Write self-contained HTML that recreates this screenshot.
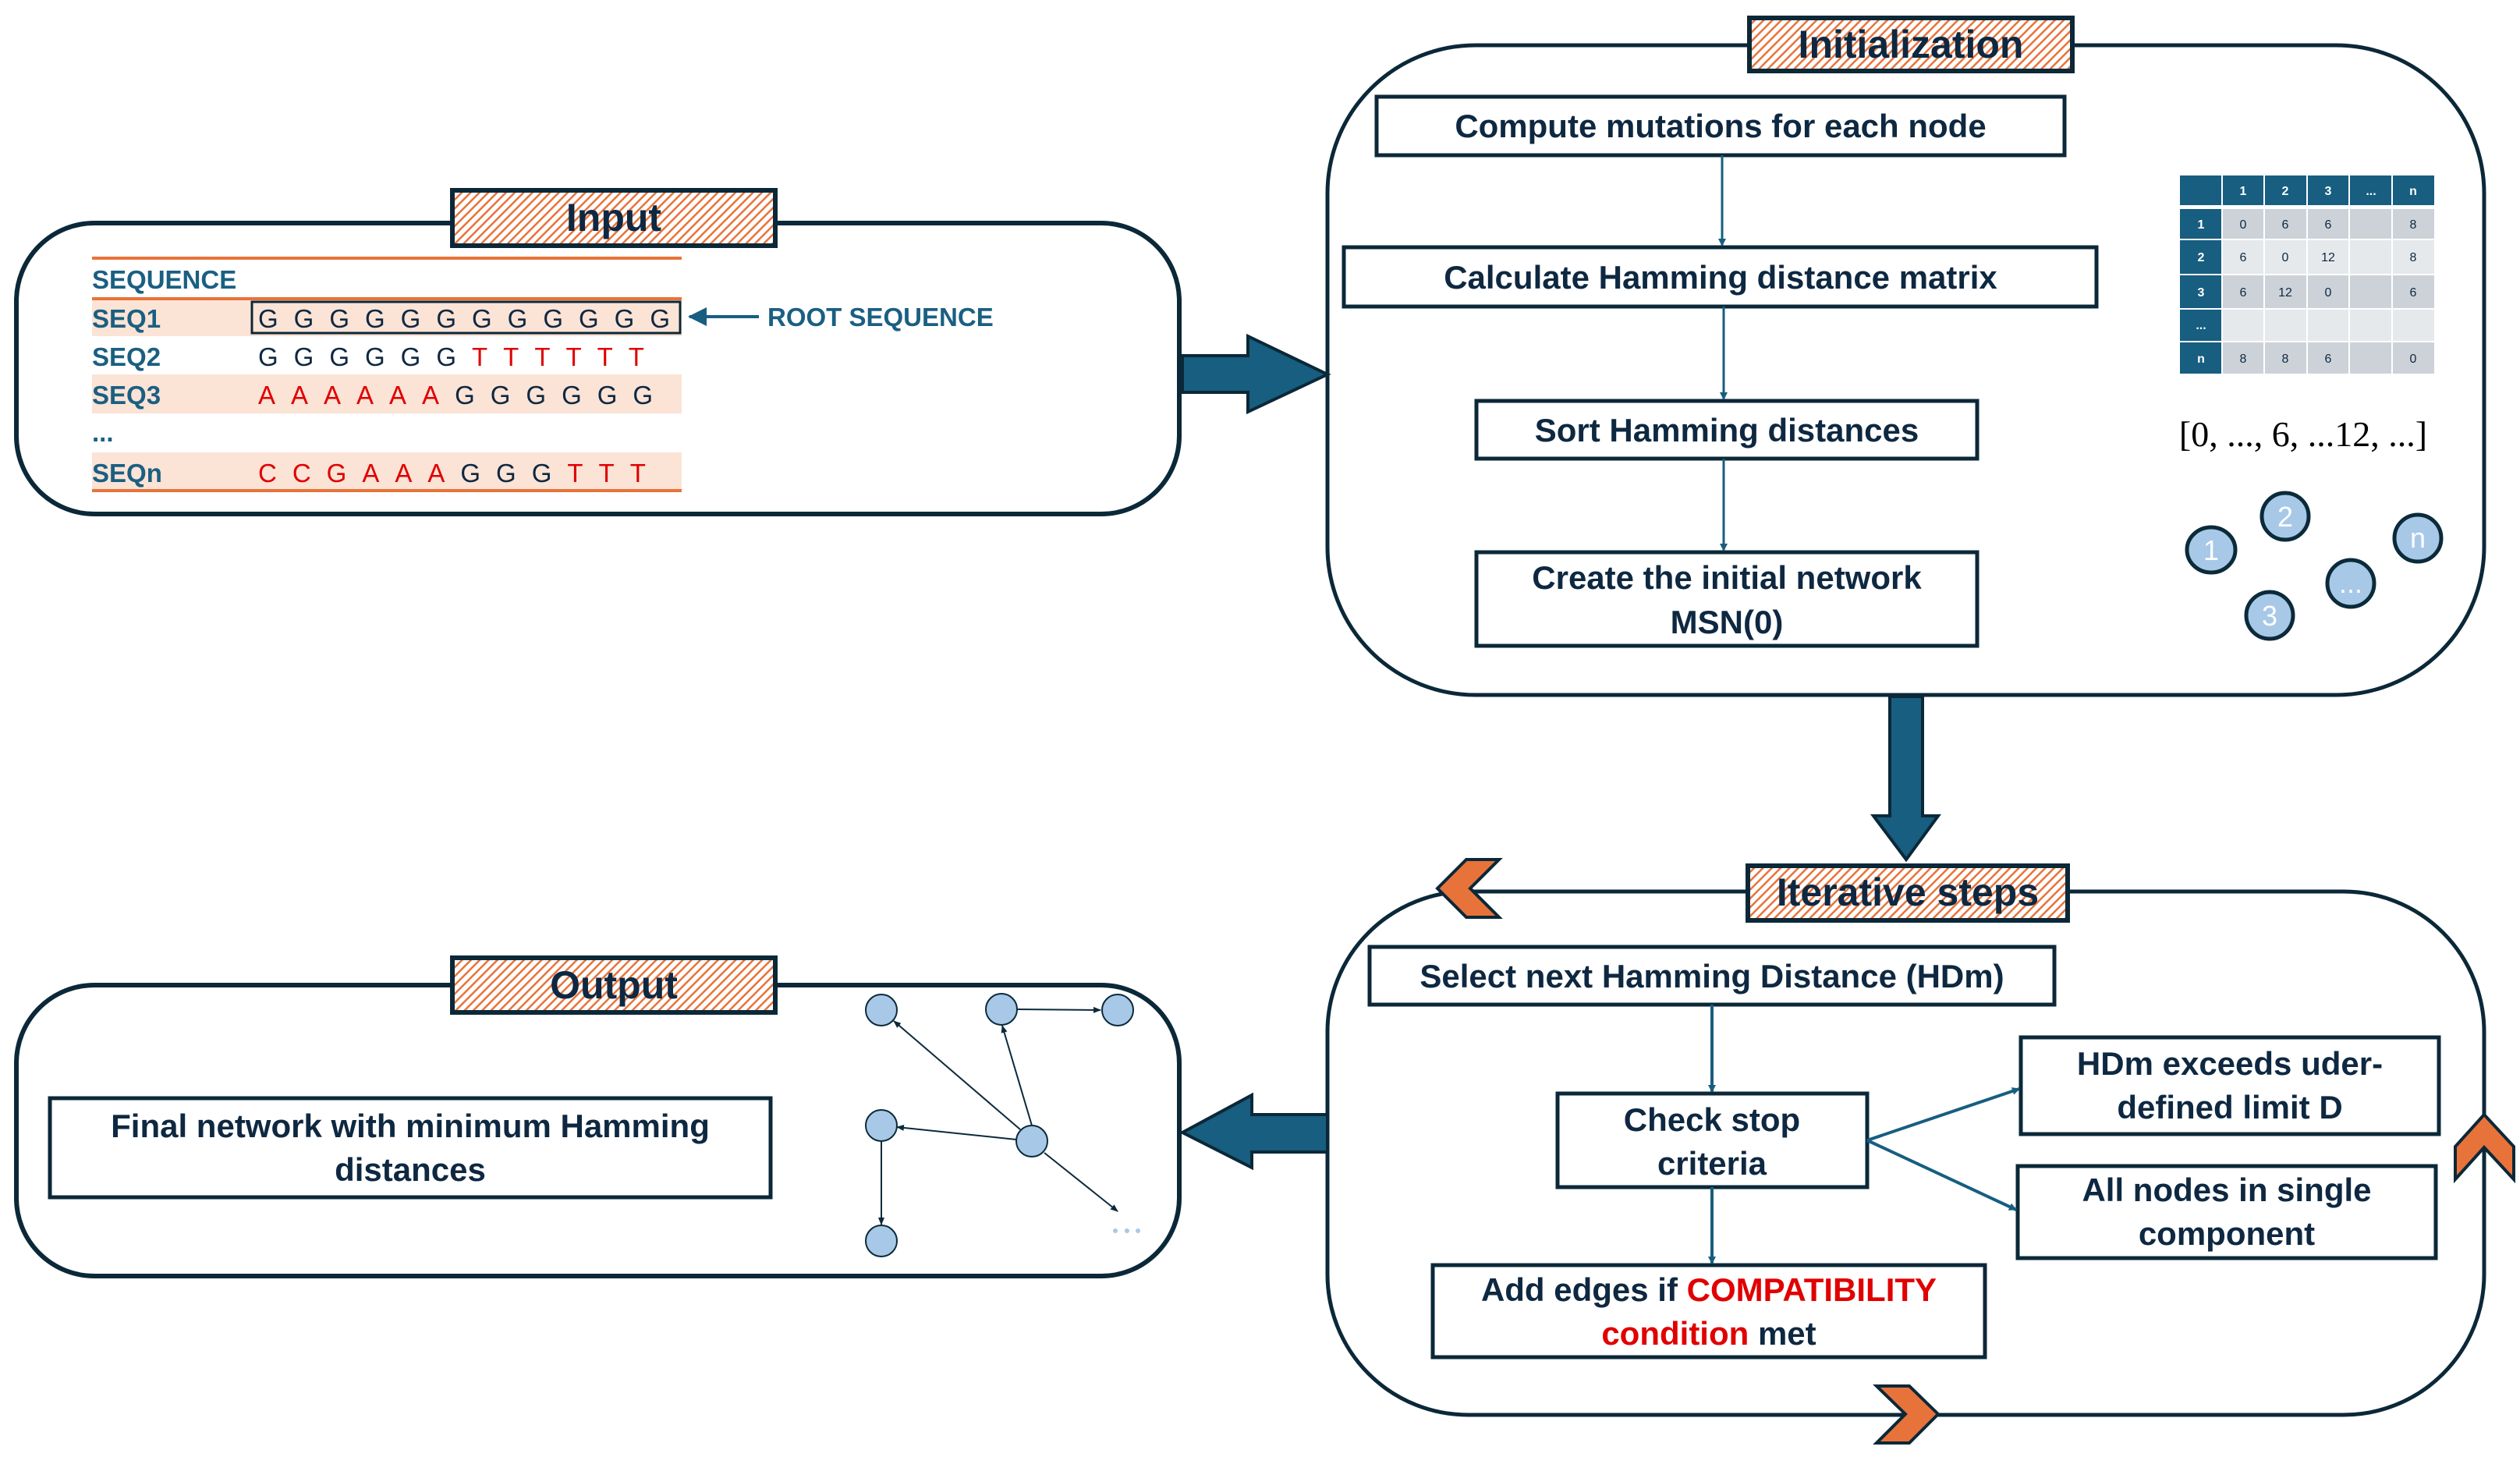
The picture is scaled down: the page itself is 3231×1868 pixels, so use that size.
<!DOCTYPE html>
<html><head><meta charset="utf-8"><style>
html,body{margin:0;padding:0;background:#fff;}
svg{display:block;}
text{font-family:"Liberation Sans",sans-serif;font-weight:bold;fill:#0e2841;}
</style></head><body>
<svg width="3231" height="1868" viewBox="0 0 3231 1868" xmlns="http://www.w3.org/2000/svg">
<defs>
<pattern id="h" patternUnits="userSpaceOnUse" width="8" height="8" patternTransform="rotate(45)">
<rect width="8" height="8" fill="#fff"/><rect x="0" y="0" width="2.5" height="8" fill="#e8733a"/>
</pattern>
<marker id="ar" markerWidth="10" markerHeight="10" refX="9" refY="5" orient="auto" markerUnits="userSpaceOnUse">
<path d="M0,0 L10,5 L0,10 Z" fill="#175e80"/></marker>
<marker id="ar2" markerWidth="24" markerHeight="24" refX="22" refY="12" orient="auto" markerUnits="userSpaceOnUse">
<path d="M0,0 L24,12 L0,24 Z" fill="#175e80"/></marker>
<marker id="ar3" markerWidth="10" markerHeight="10" refX="9" refY="5" orient="auto" markerUnits="userSpaceOnUse">
<path d="M0,1 L10,5 L0,9 Z" fill="#0b2a3a"/></marker>
</defs>

<!-- INPUT panel -->
<rect x="21" y="286" width="1491" height="373" rx="100" fill="none" stroke="#0b2838" stroke-width="6"/>
<rect x="580" y="244" width="414" height="71" fill="url(#h)" stroke="#0b2838" stroke-width="6"/>
<text x="787" y="296" font-size="50" text-anchor="middle">Input</text>

<line x1="118" y1="331" x2="874" y2="331" stroke="#e8733a" stroke-width="4"/>
<text x="118" y="370" font-size="33" style="fill:#1a5f82">SEQUENCE</text>
<rect x="118" y="383" width="756" height="48" fill="#fbe3d6"/>
<line x1="118" y1="383" x2="874" y2="383" stroke="#e8733a" stroke-width="4"/>
<rect x="118" y="480" width="756" height="50" fill="#fbe3d6"/>
<rect x="118" y="580" width="756" height="48" fill="#fbe3d6"/>
<line x1="118" y1="629" x2="874" y2="629" stroke="#e8733a" stroke-width="4"/>
<rect x="323" y="387" width="549" height="40" fill="none" stroke="#0b2838" stroke-width="3"/>
<g font-size="33" style="fill:#1a5f82">
<text x="118" y="420" style="fill:#1a5f82">SEQ1</text>
<text x="118" y="469" style="fill:#1a5f82">SEQ2</text>
<text x="118" y="518" style="fill:#1a5f82">SEQ3</text>
<text x="118" y="566" style="fill:#1a5f82">...</text>
<text x="118" y="618" style="fill:#1a5f82">SEQn</text>
</g>
<g font-size="33" style="font-weight:normal">
<text x="331" y="420" letter-spacing="20" style="font-weight:normal;fill:#0e2841">GGGGGGGGGGGG</text>
<text x="331" y="469" letter-spacing="20" style="font-weight:normal;fill:#0e2841">GGGGGG<tspan style="fill:#e00000">TTTTTT</tspan></text>
<text x="331" y="518" letter-spacing="20" style="font-weight:normal;fill:#e00000">AAAAAA<tspan style="fill:#0e2841">GGGGGG</tspan></text>
<text x="331" y="618" letter-spacing="20" style="font-weight:normal;fill:#e00000">CCGAAA<tspan style="fill:#0e2841">GGG</tspan>TTT</text>
</g>
<line x1="973" y1="406" x2="884" y2="406" stroke="#175e80" stroke-width="4" marker-end="url(#ar2)"/>
<text x="984" y="418" font-size="33" style="fill:#1a5f82">ROOT SEQUENCE</text>

<!-- arrow input -> init -->
<path d="M1516,456 L1600,456 L1600,431 L1702,480 L1600,528 L1600,503 L1516,503 Z" fill="#175e80" stroke="#0b2838" stroke-width="4"/>

<!-- INIT panel -->
<rect x="1702" y="58" width="1483" height="833" rx="190" fill="none" stroke="#0b2838" stroke-width="5"/>
<rect x="2243" y="23" width="414" height="68" fill="url(#h)" stroke="#0b2838" stroke-width="6"/>
<text x="2450" y="74" font-size="50" text-anchor="middle">Initialization</text>

<g fill="#fff" stroke="#0b2838" stroke-width="5">
<rect x="1765" y="124" width="882" height="75"/>
<rect x="1723" y="317" width="965" height="76"/>
<rect x="1893" y="514" width="642" height="74"/>
<rect x="1893" y="708" width="642" height="120"/>
</g>
<g font-size="42" text-anchor="middle">
<text x="2206" y="176">Compute mutations for each node</text>
<text x="2206" y="370">Calculate Hamming distance matrix</text>
<text x="2214" y="566">Sort Hamming distances</text>
<text x="2214" y="755">Create the initial network</text>
<text x="2214" y="812">MSN(0)</text>
</g>
<g stroke="#175e80" stroke-width="3">
<line x1="2208" y1="199" x2="2208" y2="315" marker-end="url(#ar)"/>
<line x1="2210" y1="393" x2="2210" y2="512" marker-end="url(#ar)"/>
<line x1="2210" y1="588" x2="2210" y2="706" marker-end="url(#ar)"/>
</g>

<!-- matrix -->
<g>
<rect x="2795" y="225" width="326" height="38" fill="#175e80"/>
<rect x="2795" y="268" width="53" height="211" fill="#175e80"/>
<rect x="2850" y="268" width="271" height="38" fill="#cdd2d8"/>
<rect x="2850" y="308" width="271" height="43" fill="#e6e9ec"/>
<rect x="2850" y="353" width="271" height="42" fill="#cdd2d8"/>
<rect x="2850" y="397" width="271" height="40" fill="#e6e9ec"/>
<rect x="2850" y="439" width="271" height="40" fill="#cdd2d8"/>
<g stroke="#fff" stroke-width="2">
<line x1="2849" y1="225" x2="2849" y2="479"/><line x1="2903" y1="225" x2="2903" y2="479"/>
<line x1="2958" y1="225" x2="2958" y2="479"/><line x1="3012" y1="225" x2="3012" y2="479"/>
<line x1="3067" y1="225" x2="3067" y2="479"/>
<line x1="2795" y1="307" x2="3121" y2="307"/><line x1="2795" y1="352" x2="3121" y2="352"/>
<line x1="2795" y1="396" x2="3121" y2="396"/><line x1="2795" y1="438" x2="3121" y2="438"/>
</g>
<g font-size="16" text-anchor="middle" style="fill:#fff">
<text x="2876" y="250" style="fill:#fff">1</text><text x="2930" y="250" style="fill:#fff">2</text><text x="2985" y="250" style="fill:#fff">3</text><text x="3040" y="250" style="fill:#fff">...</text><text x="3094" y="250" style="fill:#fff">n</text>
<text x="2822" y="293" style="fill:#fff">1</text><text x="2822" y="335" style="fill:#fff">2</text><text x="2822" y="380" style="fill:#fff">3</text><text x="2822" y="422" style="fill:#fff">...</text><text x="2822" y="465" style="fill:#fff">n</text>
</g>
<g font-size="16" text-anchor="middle" style="font-weight:normal">
<text x="2876" y="293" style="font-weight:normal">0</text><text x="2930" y="293" style="font-weight:normal">6</text><text x="2985" y="293" style="font-weight:normal">6</text><text x="3094" y="293" style="font-weight:normal">8</text>
<text x="2876" y="335" style="font-weight:normal">6</text><text x="2930" y="335" style="font-weight:normal">0</text><text x="2985" y="335" style="font-weight:normal">12</text><text x="3094" y="335" style="font-weight:normal">8</text>
<text x="2876" y="380" style="font-weight:normal">6</text><text x="2930" y="380" style="font-weight:normal">12</text><text x="2985" y="380" style="font-weight:normal">0</text><text x="3094" y="380" style="font-weight:normal">6</text>
<text x="2876" y="465" style="font-weight:normal">8</text><text x="2930" y="465" style="font-weight:normal">8</text><text x="2985" y="465" style="font-weight:normal">6</text><text x="3094" y="465" style="font-weight:normal">0</text>
</g>
</g>
<text x="2953" y="572" font-size="46" text-anchor="middle" style="font-family:'Liberation Serif',serif;font-weight:normal;fill:#000">[0, ..., 6, ...12, ...]</text>

<g fill="#a8c8e8" stroke="#0b2a3a" stroke-width="5">
<ellipse cx="2835" cy="705" rx="31" ry="29"/>
<ellipse cx="2930" cy="662" rx="30" ry="30"/>
<ellipse cx="2910" cy="789" rx="30" ry="30"/>
<ellipse cx="3014" cy="748" rx="30" ry="30"/>
<ellipse cx="3100" cy="690" rx="30" ry="30"/>
</g>
<g font-size="36" text-anchor="middle" style="font-weight:normal">
<text x="2835" y="718" style="font-weight:normal;fill:#fff">1</text>
<text x="2930" y="675" style="font-weight:normal;fill:#fff">2</text>
<text x="2910" y="802" style="font-weight:normal;fill:#fff">3</text>
<text x="3014" y="760" style="font-weight:normal;fill:#fff">...</text>
<text x="3100" y="702" style="font-weight:normal;fill:#fff">n</text>
</g>

<!-- down arrow -->
<path d="M2423,893 L2465,893 L2465,1046 L2485,1046 L2444,1102 L2402,1046 L2423,1046 Z" fill="#175e80" stroke="#0b2838" stroke-width="4"/>

<!-- ITERATIVE panel -->
<rect x="1702" y="1143" width="1483" height="671" rx="180" fill="none" stroke="#0b2838" stroke-width="5"/>
<rect x="2241" y="1110" width="410" height="70" fill="url(#h)" stroke="#0b2838" stroke-width="6"/>
<text x="2446" y="1161" font-size="50" text-anchor="middle">Iterative steps</text>

<g fill="#e8733a" stroke="#0b2838" stroke-width="4">
<path d="M1843,1139 L1880,1102 L1922,1102 L1885,1139 L1922,1176 L1880,1176 Z"/>
<path d="M2485,1813 L2448,1777 L2406,1777 L2443,1813 L2406,1850 L2448,1850 Z"/>
<path d="M3185,1429 L3223,1470 L3223,1512 L3185,1471 L3148,1512 L3148,1470 Z"/>
</g>

<g fill="#fff" stroke="#0b2838" stroke-width="5">
<rect x="1756" y="1214" width="878" height="74"/>
<rect x="1997" y="1402" width="397" height="120"/>
<rect x="2591" y="1330" width="536" height="124"/>
<rect x="2587" y="1495" width="536" height="118"/>
<rect x="1837" y="1622" width="708" height="118"/>
</g>
<g font-size="42" text-anchor="middle">
<text x="2195" y="1266">Select next Hamming Distance (HDm)</text>
<text x="2195" y="1450">Check stop</text>
<text x="2195" y="1506">criteria</text>
<text x="2859" y="1378">HDm exceeds uder-</text>
<text x="2859" y="1434">defined limit D</text>
<text x="2855" y="1540">All nodes in single</text>
<text x="2855" y="1596">component</text>
<text x="2191" y="1668">Add edges if <tspan style="fill:#e00000">COMPATIBILITY</tspan></text>
<text x="2191" y="1724"><tspan style="fill:#e00000">condition</tspan> met</text>
</g>
<g stroke="#175e80" stroke-width="4">
<line x1="2195" y1="1288" x2="2195" y2="1400" marker-end="url(#ar)"/>
<line x1="2195" y1="1522" x2="2195" y2="1620" marker-end="url(#ar)"/>
<line x1="2394" y1="1462" x2="2589" y2="1396" marker-end="url(#ar)"/>
<line x1="2394" y1="1462" x2="2585" y2="1551" marker-end="url(#ar)"/>
</g>

<!-- arrow iterative -> output -->
<path d="M1702,1429 L1605,1429 L1605,1404 L1516,1452 L1605,1497 L1605,1477 L1702,1477 Z" fill="#175e80" stroke="#0b2838" stroke-width="4"/>

<!-- OUTPUT panel -->
<rect x="21" y="1263" width="1491" height="373" rx="100" fill="none" stroke="#0b2838" stroke-width="6"/>
<rect x="580" y="1228" width="414" height="70" fill="url(#h)" stroke="#0b2838" stroke-width="6"/>
<text x="787" y="1280" font-size="50" text-anchor="middle">Output</text>
<rect x="64" y="1408" width="924" height="127" fill="#fff" stroke="#0b2838" stroke-width="5"/>
<text x="526" y="1458" font-size="42" text-anchor="middle">Final network with minimum Hamming</text>
<text x="526" y="1514" font-size="42" text-anchor="middle">distances</text>

<g stroke="#0b2a3a" stroke-width="2">
<line x1="1304" y1="1294" x2="1411" y2="1295" marker-end="url(#ar3)"/>
<line x1="1308" y1="1448" x2="1146" y2="1309" marker-end="url(#ar3)"/>
<line x1="1323" y1="1443" x2="1285" y2="1315" marker-end="url(#ar3)"/>
<line x1="1303" y1="1461" x2="1150" y2="1445" marker-end="url(#ar3)"/>
<line x1="1130" y1="1463" x2="1130" y2="1570" marker-end="url(#ar3)"/>
<line x1="1339" y1="1478" x2="1433" y2="1553" marker-end="url(#ar3)"/>
</g>
<g fill="#a8c8e8" stroke="#0b2a3a" stroke-width="2">
<circle cx="1130" cy="1295" r="20"/>
<circle cx="1284" cy="1294" r="20"/>
<circle cx="1433" cy="1295" r="20"/>
<circle cx="1130" cy="1443" r="20"/>
<circle cx="1323" cy="1463" r="20"/>
<circle cx="1130" cy="1591" r="20"/>
</g>
<g fill="#a8c8e8">
<circle cx="1430" cy="1578" r="3"/><circle cx="1445" cy="1578" r="3"/><circle cx="1459" cy="1578" r="3"/>
</g>
</svg>
</body></html>
